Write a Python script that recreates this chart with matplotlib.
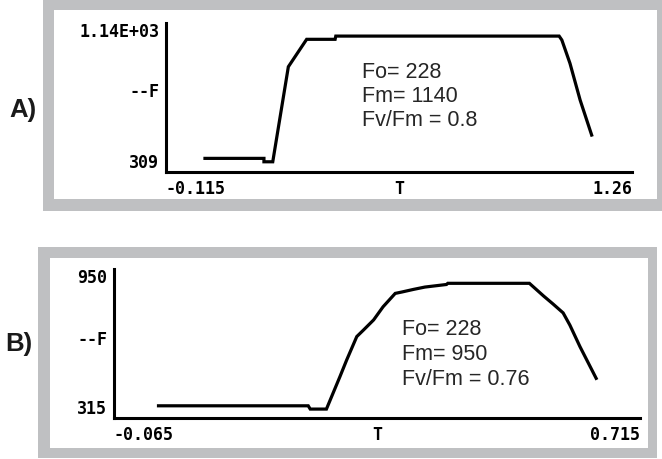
import matplotlib
matplotlib.use('Agg')
import matplotlib.pyplot as plt
from matplotlib.patches import Rectangle

W, H, DPI = 662, 459, 100

# ---------------- data ----------------
# Panel A
tA = [0.000, 0.174, 0.174, 0.200, 0.246, 0.300, 0.384, 0.386, 1.045, 1.053, 1.077, 1.107, 1.141]
fA = [385, 385, 366, 366, 896, 1049, 1049, 1067, 1067, 1045, 915, 710, 515]
xlimA = (-0.115, 1.26)
ylimA = (309, 1140)
xlabA = ['-0.115', 'T', '1.26']
ylabA = ['309', '--F', '1.14E+03']
annotA = ['Fo= 228', 'Fm= 1140', 'Fv/Fm = 0.8']

# Panel B
tB = [0.001, 0.223, 0.226, 0.250, 0.270, 0.280, 0.295, 0.305, 0.320, 0.334, 0.352, 0.362,
      0.379, 0.396, 0.428, 0.430, 0.551, 0.572, 0.586, 0.601, 0.611, 0.626, 0.650]
fB = [367, 367, 353, 353, 491, 562, 662, 690, 733, 789, 846, 852,
      863, 873, 884, 889, 889, 835, 801, 763, 711, 619, 484]
xlimB = (-0.065, 0.715)
ylimB = (315, 950)
xlabB = ['-0.065', 'T', '0.715']
ylabB = ['315', '--F', '950']
annotB = ['Fo= 228', 'Fm= 950', 'Fv/Fm = 0.76']

panel_labels = ['A)', 'B)']

# ---------------- figure ----------------
GRAY = '#bfc0c2'
fig = plt.figure(figsize=(W / DPI, H / DPI), dpi=DPI)
fig.patch.set_facecolor('white')


def fx(px):
    return px / W


def fy(py):
    return 1 - py / H


def rect(x0, y0, x1, y1, color):
    fig.patches.append(Rectangle((fx(x0), fy(y1)), (x1 - x0) / W, (y1 - y0) / H,
                                 transform=fig.transFigure, facecolor=color,
                                 edgecolor='none', zorder=-10))


def frame(outer, inner):
    rect(*outer, GRAY)
    rect(*inner, 'white')


frame((43, 0, 662, 211), (54, 10, 657, 199))
frame((38, 247, 657, 458), (50, 258, 648, 448))

MONO = dict(family='DejaVu Sans Mono', weight='bold', size=12)


def panel(box, t, f, xlim, ylim, xlab, ylab, midfrac):
    l, tp, r, b = box
    ax = fig.add_axes([fx(l), fy(b), (r - l) / W, (b - tp) / H])
    ax.set_facecolor('none')
    ax.plot(t, f, color='black', lw=2.3, clip_on=False, solid_joinstyle='miter')
    ax.set_xlim(*xlim)
    ax.set_ylim(*ylim)
    for s in ('top', 'right'):
        ax.spines[s].set_visible(False)
    for s in ('left', 'bottom'):
        ax.spines[s].set_linewidth(2.2)
        ax.spines[s].set_color('black')
    ax.set_xticks([xlim[0], (xlim[0] + xlim[1]) / 2, xlim[1]])
    ax.set_xticklabels(xlab, **MONO)
    ax.set_yticks([ylim[0], ylim[0] + midfrac * (ylim[1] - ylim[0]), ylim[1]])
    ax.set_yticklabels(ylab, **MONO)
    ax.tick_params(axis='x', length=0, pad=6)
    ax.tick_params(axis='y', length=0, pad=5)
    xt = ax.get_xticklabels()
    xt[0].set_ha('left')
    xt[-1].set_ha('right')
    yt = ax.get_yticklabels()
    yt[0].set_va('bottom')
    yt[-1].set_va('top')
    return ax


axA = panel((166, 23, 632, 172), tA, fA, xlimA, ylimA, xlabA, ylabA, 0.55)
axB = panel((114, 269, 640, 418), tB, fB, xlimB, ylimB, xlabB, ylabB, 0.54)

TXT = dict(family='Liberation Sans', size=15.5, color='#262626', va='baseline', ha='left')
for i, line in enumerate(annotA):
    fig.text(fx(361.5), fy(77.7 + 24.3 * i), line, **TXT)
for i, line in enumerate(annotB):
    fig.text(fx(402.5), fy(335 + 25 * i), line, **TXT)

LAB = dict(family='Liberation Sans', size=18.5, weight='bold', color='#1a1a1a', va='baseline', ha='left')
fig.text(fx(9), fy(116.7), panel_labels[0], **LAB)
fig.text(fx(5), fy(351), panel_labels[1], **LAB)

fig.savefig('out.png', dpi=DPI)
